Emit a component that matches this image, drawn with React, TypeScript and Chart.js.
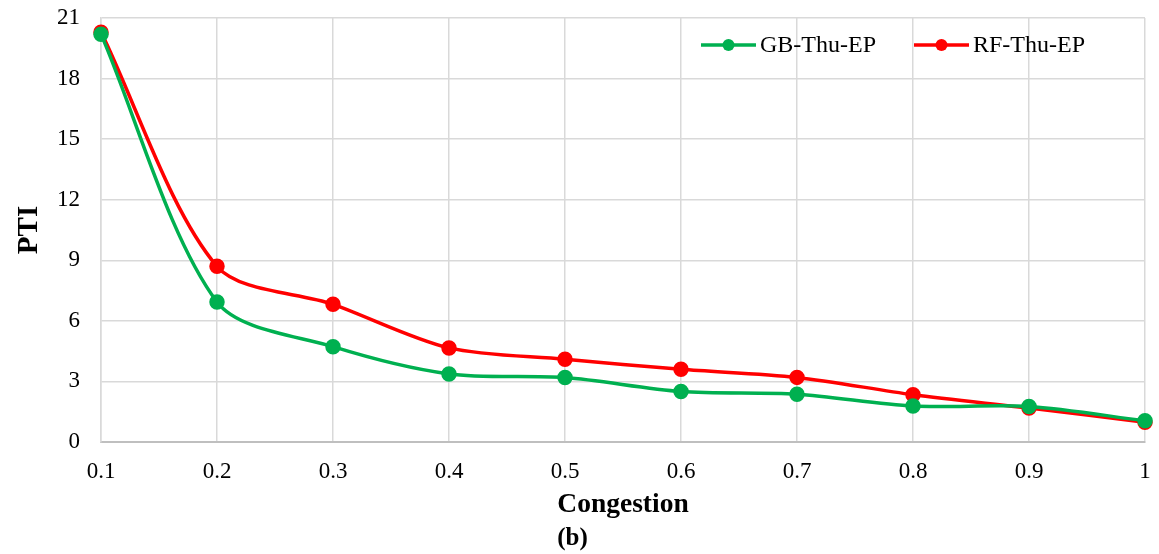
import React, { useEffect, useRef } from "react";
import { Chart, registerables } from "chart.js";

Chart.register(...registerables);

const categories = ["0.1", "0.2", "0.3", "0.4", "0.5", "0.6", "0.7", "0.8", "0.9", "1"];
const gbThuEP = [20.2, 6.93, 4.72, 3.37, 3.19, 2.5, 2.37, 1.78, 1.76, 1.05];
const rfThuEP = [20.3, 8.7, 6.82, 4.66, 4.1, 3.6, 3.2, 2.34, 1.68, 0.98];
const seriesNames = ["GB-Thu-EP", "RF-Thu-EP"];
const seriesColors = ["#00B050", "#FF0000"];
const yTicks = [0, 3, 6, 9, 12, 15, 18, 21];

const FONT = "'Liberation Serif', 'Times New Roman', serif";

const insideLegend = {
  id: "insideLegend",
  afterDatasetsDraw(chart: any) {
    const { ctx, chartArea } = chart;
    ctx.save();
    ctx.font = `24px ${FONT}`;
    ctx.textBaseline = "middle";
    const lineLen = 55;
    const gap = 4;
    const itemGap = 38;
    const ds = chart.data.datasets;
    const widths = ds.map((d: any) => lineLen + gap + ctx.measureText(d.label).width);
    const total = widths.reduce((a: number, b: number) => a + b, 0) + itemGap * (ds.length - 1);
    let x = chartArea.right - 60 - total;
    const y = chartArea.top + 27;
    ds.forEach((d: any, i: number) => {
      ctx.strokeStyle = d.borderColor;
      ctx.lineWidth = 3.5;
      ctx.beginPath();
      ctx.moveTo(x, y);
      ctx.lineTo(x + lineLen, y);
      ctx.stroke();
      ctx.fillStyle = d.borderColor;
      ctx.beginPath();
      ctx.arc(x + lineLen / 2, y, 6, 0, Math.PI * 2);
      ctx.fill();
      ctx.fillStyle = "#000";
      ctx.textAlign = "left";
      ctx.fillText(d.label, x + lineLen + gap, y + 1);
      x += widths[i] + itemGap;
    });
    ctx.restore();
  },
};

export default function App() {
  const ref = useRef<HTMLCanvasElement | null>(null);
  useEffect(() => {
    document.body.style.margin = "0";
    const canvas = ref.current!;
    const chart = new Chart(canvas, {
      type: "line",
      data: {
        labels: categories,
        datasets: [gbThuEP, rfThuEP].map((vals, i) => ({
          label: seriesNames[i],
          data: vals,
          borderColor: seriesColors[i],
          backgroundColor: seriesColors[i],
          pointBackgroundColor: seriesColors[i],
          pointBorderColor: seriesColors[i],
          borderWidth: 3.5,
          pointRadius: 6,
          pointHoverRadius: 6,
          tension: 0.3,
          fill: false,
        })),
      },
      options: {
        responsive: false,
        animation: false,
        layout: { padding: { top: 18, right: 14, left: 0, bottom: 0 } },
        plugins: {
          legend: { display: false },
          tooltip: { enabled: false },
          title: {
            display: true,
            position: "bottom",
            text: "(b)",
            color: "#000",
            font: { family: FONT, size: 25, weight: "bold" },
            padding: { top: 3, bottom: 0 },
          },
        },
        scales: {
          x: {
            type: "category",
            offset: false,
            afterFit: (scale: any) => {
              scale.height = 79;
              scale.paddingLeft = 0;
              scale.paddingRight = 0;
            },
            grid: { color: "#d9d9d9", lineWidth: 1.5, drawTicks: false },
            border: { color: "#bfbfbf", width: 2 },
            ticks: {
              color: "#000",
              font: { family: FONT, size: 23 },
              padding: 16,
              maxRotation: 0,
              autoSkip: false,
            },
            title: {
              display: true,
              text: "Congestion",
              color: "#000",
              font: { family: FONT, size: 27.5, weight: "bold" },
              padding: { top: 0, bottom: 0 },
            },
          },
          y: {
            min: 0,
            max: 21,
            afterBuildTicks: (scale: any) => {
              scale.ticks = yTicks.map((v) => ({ value: v }));
            },
            afterFit: (scale: any) => {
              scale.width = 101;
              scale.paddingTop = 0;
              scale.paddingBottom = 0;
            },
            grid: { color: "#d9d9d9", lineWidth: 1.5, drawTicks: false },
            border: { color: "#d9d9d9", width: 1.5 },
            ticks: {
              color: "#000",
              font: { family: FONT, size: 23 },
              padding: 21,
            },
            title: {
              display: true,
              text: "PTI",
              color: "#000",
              font: { family: FONT, size: 29, weight: "bold" },
              padding: { top: 12, bottom: 0 },
            },
          },
        },
      },
      plugins: [insideLegend],
    });
    return () => chart.destroy();
  }, []);
  return (
    <div style={{ width: 1159, height: 554, background: "#fff" }}>
      <canvas ref={ref} width={1159} height={554} />
    </div>
  );
}
